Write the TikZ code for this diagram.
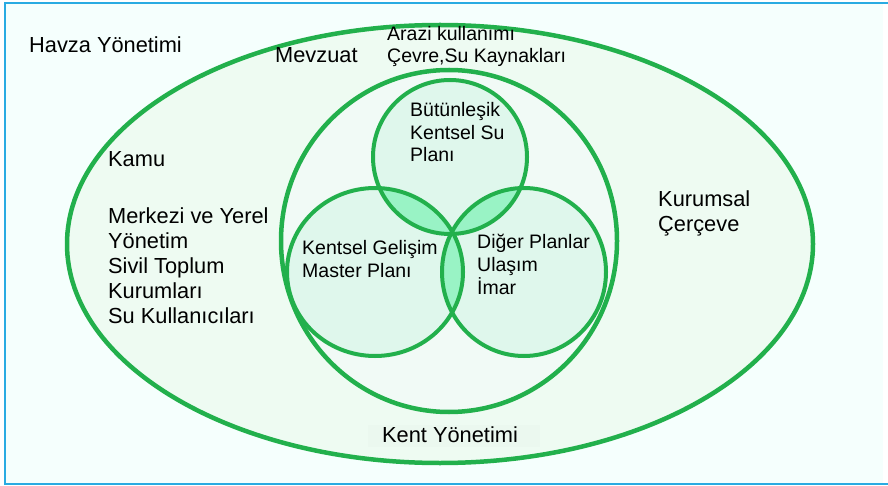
\documentclass[tikz,border=0pt]{standalone}
\usepackage{fontspec}
\setmainfont{Liberation Sans}
\begin{document}
\definecolor{pagebg}{RGB}{245,255,253}
\definecolor{framecol}{RGB}{41,171,226}
\definecolor{ringcol}{RGB}{34,176,76}
\definecolor{basinfill}{RGB}{238,251,242}
\definecolor{cityfill}{RGB}{241,250,246}
\definecolor{planfill}{RGB}{223,247,236}
\definecolor{lensfill}{RGB}{153,243,197}
\definecolor{labelbox}{RGB}{235,248,239}
% multi-line labels are placed by the baseline of their last line
\begin{tikzpicture}[x=1pt,y=-1pt,
  ring/.style={draw=ringcol,line width=4.5pt},
  bigtxt/.style={anchor=base west,inner sep=0pt,font=\fontsize{21.8}{25}\selectfont,align=left},
  smalltxt/.style={anchor=base west,inner sep=0pt,font=\fontsize{19.5}{22.5}\selectfont,align=left}]
\useasboundingbox (0,0) rectangle (888,486);
% page background and frame
\fill[white] (0,0) rectangle (888,486);
\fill[pagebg] (5,3) rectangle (883,484);
\draw[framecol,line width=2pt] (888,3) -- (5,3) -- (5,484) -- (888,484);
% basin ellipse and city circle
\path[ring,fill=basinfill] (440,244) ellipse [x radius=373,y radius=219];
\path[ring,fill=cityfill] (449,241) ellipse [x radius=168,y radius=171];
% plan circles
\fill[planfill] (450,157) circle (77);
\fill[planfill] (375,272) ellipse [x radius=88,y radius=84];
\fill[planfill] (524,272) ellipse [x radius=82,y radius=84];
% overlaps
\begin{scope}
  \clip (450,157) circle (77);
  \fill[lensfill] (375,272) ellipse [x radius=88,y radius=84];
  \fill[lensfill] (524,272) ellipse [x radius=82,y radius=84];
\end{scope}
\begin{scope}
  \clip (375,272) ellipse [x radius=88,y radius=84];
  \fill[lensfill] (524,272) ellipse [x radius=82,y radius=84];
\end{scope}
\path[ring,line width=4pt] (450,157) circle (77);
\path[ring,line width=4pt] (375,272) ellipse [x radius=88,y radius=84];
\path[ring,line width=4pt] (524,272) ellipse [x radius=82,y radius=84];
% labels
\fill[labelbox] (368,425) rectangle (540,447);
\node[bigtxt] (havza) at (29,53) {Havza Yönetimi};
\node[bigtxt] (mevzuat) at (275,63) {Mevzuat};
\node[smalltxt] (arazi) at (387,63) {Arazi kullanımı\\Çevre,Su Kaynakları};
\node[bigtxt] (kamu) at (108,167) {Kamu};
\node[bigtxt] (aktor) at (108,323) {Merkezi ve Yerel\\Yönetim\\Sivil Toplum\\Kurumları\\Su Kullanıcıları};
\node[bigtxt] (kurumsal) at (658,232) {Kurumsal\\Çerçeve};
\node[smalltxt] (butun) at (410,162) {Bütünleşik\\Kentsel Su\\Planı};
\node[smalltxt] (gelisim) at (302,277) {Kentsel Gelişim\\Master Planı};
\node[smalltxt] (diger) at (477,294) {Diğer Planlar\\Ulaşım\\İmar};
\node[bigtxt] (kent) at (382,442) {Kent Yönetimi};
\end{tikzpicture}
\end{document}
